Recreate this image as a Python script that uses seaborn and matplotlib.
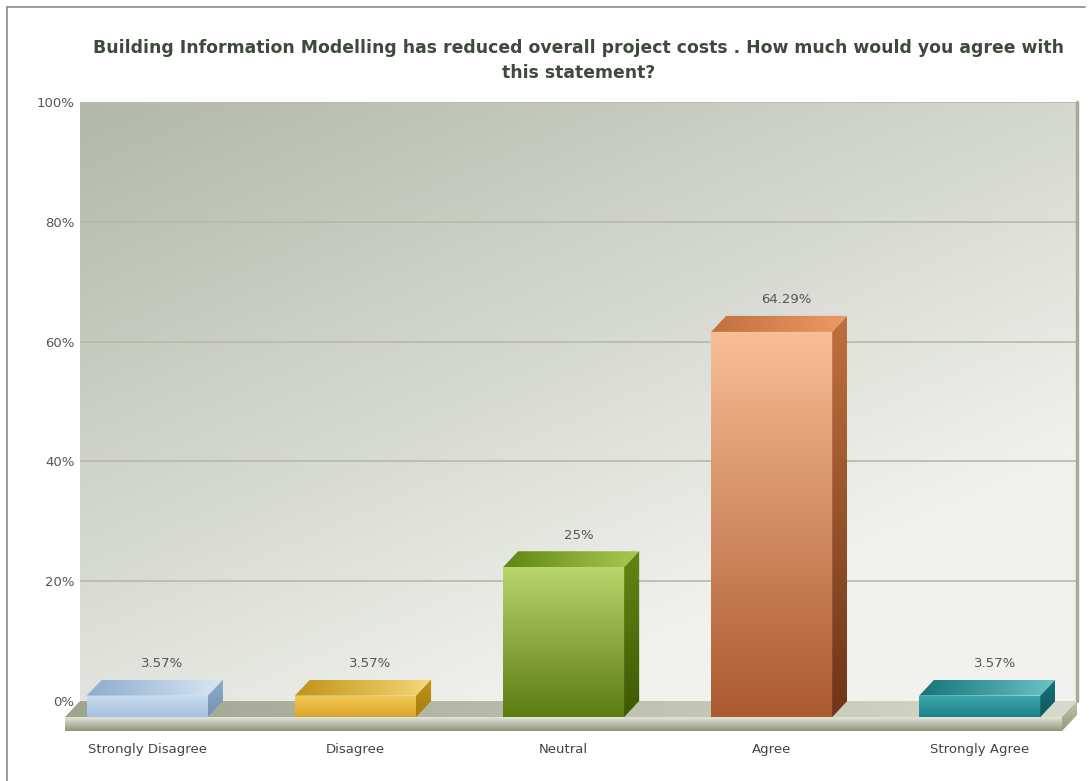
import numpy as np
import pandas as pd
import matplotlib
matplotlib.use("Agg")
import matplotlib.pyplot as plt
import matplotlib.transforms as mtransforms
from matplotlib.patches import Polygon
from matplotlib.colors import to_rgb
from matplotlib.lines import Line2D
import seaborn as sns

# Survey responses
categories = ["Strongly Disagree", "Disagree", "Neutral", "Agree", "Strongly Agree"]
values = [3.57, 3.57, 25.0, 64.29, 3.57]
value_labels = ["3.57%", "3.57%", "25%", "64.29%", "3.57%"]
ytick_values = [0, 20, 40, 60, 80, 100]
ytick_labels = ["0%", "20%", "40%", "60%", "80%", "100%"]
title = ("Building Information Modelling has reduced overall project costs . "
         "How much would you agree with\nthis statement?")

# Shading per bar: front (top, bottom), top face, side (top, bottom)
front_top = ["#c9dcf0", "#f2cc58", "#b9d66c", "#f9be96", "#3eaaae"]
front_bot = ["#a5c1de", "#dba52c", "#5c7c10", "#ab5a30", "#1b8286"]
top_face = ["#d8e7f6", "#f6d878", "#a6ca50", "#ee9a66", "#6cc4c4"]
side_top = ["#8eaccc", "#c09418", "#628614", "#c0703e", "#15747a"]
side_bot = ["#7492b2", "#a67c0c", "#3e5a05", "#6e3518", "#0c5a5e"]

sns.set_theme(style="white")
plt.rcParams["font.family"] = ["DejaVu Sans"]

W, H = 1089, 781
fig = plt.figure(figsize=(W / 100, H / 100), dpi=100)
fig.patch.set_facecolor("white")

# back wall of the 3D plot
ax_l, ax_r, ax_t, ax_b = 80, 1077, 102, 701
ax = fig.add_axes([ax_l / W, (H - ax_b) / H, (ax_r - ax_l) / W, (ax_b - ax_t) / H])

xlim = (-0.396, 4.395)
ylim = (0, 100)
px_x = (ax_r - ax_l) / (xlim[1] - xlim[0])
px_y = (ax_b - ax_t) / (ylim[1] - ylim[0])
dx = 15 / px_x      # depth offset in data units
dy = 16 / px_y

df = pd.DataFrame({"category": categories, "value": values})
sns.barplot(data=df, x="category", y="value", hue="category",
            palette=front_bot, width=0.582, legend=False, ax=ax,
            saturation=1, zorder=5)

ax.set_autoscale_on(False)
ax.set_xlim(*xlim)
ax.set_ylim(*ylim)


def vgrad(c1, c2, n=128):
    a, b = np.array(to_rgb(c1)), np.array(to_rgb(c2))
    t = np.linspace(0, 1, n)[:, None]
    return (a * (1 - t) + b * t)[:, None, :]


def hgrad(c1, c2, n=128):
    return np.transpose(vgrad(c1, c2, n), (1, 0, 2))


def shaded(poly, grad, extent, zorder, transform=None):
    """Add an invisible polygon and fill it with a gradient image."""
    poly.set_facecolor("none")
    poly.set_edgecolor("none")
    if transform is not None:
        poly.set_transform(transform)
    ax.add_patch(poly)
    poly.set_clip_on(False)
    kw = {} if transform is None else {"transform": transform}
    im = ax.imshow(grad, extent=extent, aspect="auto", zorder=zorder,
                   interpolation="bilinear", **kw)
    im.set_clip_box(fig.bbox)
    im.set_clip_path(poly)
    return im


# back wall gradient (dark top-left, light bottom-right)
yy, xx = np.mgrid[0:1:200j, 0:1:200j]
t = np.clip(0.55 * xx + 0.75 * yy, 0, 1)[..., None]
c_dark, c_light = np.array(to_rgb("#b2b8aa")), np.array(to_rgb("#f1f2ee"))
wall = c_dark * (1 - t) + c_light * t
ax.imshow(wall, extent=[xlim[0], xlim[1], ylim[0], ylim[1]], origin="upper",
          aspect="auto", zorder=0)

for yv in ytick_values[1:]:
    ax.axhline(yv, color="#b6baa6", lw=1.2, zorder=1)
ax.plot([xlim[1], xlim[1]], [0, 100], color="#a8aaa0", lw=2.5, zorder=1,
        clip_on=False)

# floor slab
fx0, fx1 = xlim
slab = 14 / px_y
shaded(Polygon([[fx0, 0], [fx1, 0], [fx1 - dx, -dy], [fx0 - dx, -dy]], closed=True),
       hgrad("#9ea48e", "#d8dacb"), [fx0 - dx, fx1, -dy, 0], 2)
shaded(Polygon([[fx0 - dx, -dy], [fx1 - dx, -dy], [fx1 - dx, -dy - slab],
                [fx0 - dx, -dy - slab]], closed=True),
       vgrad("#e2e5d8", "#8e947e"), [fx0 - dx, fx1 - dx, -dy - slab, -dy], 2)
shaded(Polygon([[fx1 - dx, -dy], [fx1, 0], [fx1, -slab], [fx1 - dx, -dy - slab]],
               closed=True),
       vgrad("#c4c4ac", "#98987e"), [fx1 - dx, fx1, -dy - slab, 0], 2)

# 3D bars: seaborn front faces shifted toward the viewer, plus top/side faces
shift = mtransforms.Affine2D().translate(-dx, -dy) + ax.transData
for i, patch in enumerate(ax.patches[:len(categories)]):
    x0 = patch.get_x()
    w = patch.get_width()
    h = patch.get_height()
    x1 = x0 + w
    patch.set_transform(shift)
    patch.set_clip_on(False)
    patch.set_zorder(5)
    patch.set_edgecolor("none")

    im = ax.imshow(vgrad(front_top[i], front_bot[i]), extent=[x0, x1, 0, h],
                   aspect="auto", zorder=6, transform=shift, interpolation="bilinear")
    im.set_clip_box(fig.bbox)
    im.set_clip_path(patch)

    shaded(Polygon([[x0 - dx, h - dy], [x1 - dx, h - dy], [x1, h], [x0, h]], closed=True),
           hgrad(side_top[i], top_face[i]), [x0 - dx, x1, h - dy, h], 6)
    shaded(Polygon([[x1 - dx, -dy], [x1 - dx, h - dy], [x1, h], [x1, 0]], closed=True),
           vgrad(side_top[i], side_bot[i]), [x1 - dx, x1, -dy, h], 6)

    ax.text(i, h + 16 / px_y, value_labels[i], ha="center", va="center",
            fontsize=9.5, color="#555555", zorder=7)

ax.set_xticks(np.arange(len(categories)) - dx)
ax.set_xticklabels(categories, fontsize=9.5, color="#444444")
ax.set_yticks(ytick_values)
ax.set_yticklabels(ytick_labels, fontsize=9.5, color="#555555")
ax.tick_params(axis="x", length=0, pad=30)
ax.tick_params(axis="y", length=0, pad=4)
ax.set_xlabel("")
ax.set_ylabel("")
for s in ax.spines.values():
    s.set_visible(False)

ax.set_title(title, fontsize=12.4, fontweight="bold", color="#3e4a3c",
             pad=17, linespacing=1.55)

# outer frame
fig.add_artist(Line2D([7 / W, 7 / W], [0, 1 - 7 / H], color="#8a8a8a", lw=1.2))
fig.add_artist(Line2D([7 / W, 1 - 4 / W], [1 - 7 / H, 1 - 7 / H], color="#8a8a8a", lw=1.2))

fig.savefig("out.png", dpi=100)
